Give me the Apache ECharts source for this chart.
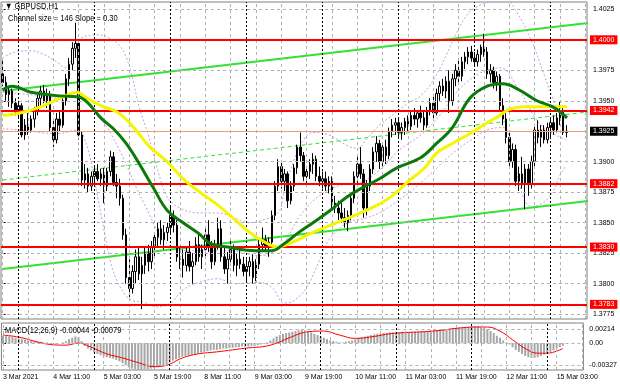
<!DOCTYPE html>
<html><head><meta charset="utf-8">
<script src="https://cdn.jsdelivr.net/npm/echarts@6/dist/echarts.min.js"></script>
<style>html,body{margin:0;padding:0;background:#fff}#c{width:620px;height:388px}</style>
</head><body><div id="c"></div>
<script>
// ---------- DATA ----------
const tickLabels = ['3 Mar 2021','4 Mar 11:00','5 Mar 03:00','5 Mar 19:00','8 Mar 11:00','9 Mar 03:00','9 Mar 19:00','10 Mar 11:00','11 Mar 03:00','11 Mar 19:00','12 Mar 11:00','15 Mar 03:00'];
const SLOTS = 185; // hourly bar slots shown (179 bars + empty right margin)
const categories = Array.from({length: SLOTS}, (_, i) => i);

const open = [
1.3972,1.3965,1.3955,1.3958,1.3948,1.3942,1.3946,1.3922,1.3930,1.3926,
1.3935,1.3942,1.3952,1.3958,1.3950,1.3955,1.3928,1.3918,1.3935,1.3930,
1.3950,1.3968,1.3980,1.3993,1.3997,1.3922,1.3885,1.3890,1.3880,1.3888,
1.3892,1.3886,1.3890,1.3880,1.3892,1.3904,1.3883,1.3880,1.3870,1.3840,
1.3805,1.3796,1.3810,1.3822,1.3808,1.3815,1.3825,1.3818,1.3830,1.3838,
1.3845,1.3836,1.3842,1.3846,1.3856,1.3848,1.3822,1.3820,1.3815,1.3826,
1.3814,1.3818,1.3832,1.3822,1.3828,1.3840,1.3830,1.3818,1.3832,1.3845,
1.3822,1.3812,1.3820,1.3828,1.3815,1.3820,1.3816,1.3810,1.3814,1.3818,
1.3805,1.3816,1.3832,1.3836,1.3830,1.3834,1.3856,1.3880,1.3896,1.3884,
1.3890,1.3868,1.3880,1.3895,1.3912,1.3905,1.3888,1.3892,1.3898,1.3902,
1.3888,1.3884,1.3886,1.3880,1.3884,1.3866,1.3862,1.3858,1.3854,1.3850,
1.3856,1.3870,1.3888,1.3898,1.3890,1.3862,1.3880,1.3894,1.3908,1.3915,
1.3900,1.3912,1.3905,1.3925,1.3930,1.3932,1.3924,1.3928,1.3933,1.3929,
1.3938,1.3935,1.3940,1.3936,1.3930,1.3942,1.3948,1.3940,1.3956,1.3962,
1.3958,1.3966,1.3950,1.3968,1.3975,1.3970,1.3982,1.3986,1.3990,1.3985,
1.3982,1.3988,1.3994,1.3990,1.3972,1.3975,1.3965,1.3970,1.3946,1.3935,
1.3920,1.3900,1.3910,1.3884,1.3890,1.3882,1.3894,1.3882,1.3900,1.3926,
1.3920,1.3926,1.3918,1.3928,1.3932,1.3926,1.3936,1.3942,1.3924];
const high = [
1.3985,1.3970,1.3962,1.3960,1.3952,1.3950,1.3948,1.3935,1.3940,1.3938,
1.3945,1.3955,1.3962,1.3963,1.3960,1.3958,1.3935,1.3940,1.3942,1.3955,
1.3972,1.3985,1.3998,1.4014,1.4000,1.3925,1.3898,1.3895,1.3892,1.3896,
1.3898,1.3894,1.3895,1.3895,1.3909,1.3908,1.3890,1.3886,1.3873,1.3845,
1.3820,1.3815,1.3828,1.3830,1.3822,1.3830,1.3832,1.3835,1.3842,1.3850,
1.3852,1.3848,1.3850,1.3863,1.3860,1.3852,1.3830,1.3828,1.3830,1.3835,
1.3825,1.3838,1.3840,1.3832,1.3845,1.3852,1.3835,1.3836,1.3854,1.3852,
1.3830,1.3826,1.3835,1.3832,1.3825,1.3828,1.3822,1.3820,1.3822,1.3824,
1.3820,1.3836,1.3846,1.3840,1.3838,1.3860,1.3884,1.3902,1.3900,1.3894,
1.3892,1.3884,1.3898,1.3914,1.3924,1.3908,1.3896,1.3902,1.3907,1.3905,
1.3896,1.3892,1.3892,1.3888,1.3888,1.3872,1.3868,1.3866,1.3862,1.3860,
1.3875,1.3892,1.3904,1.3912,1.3894,1.3885,1.3898,1.3912,1.3921,1.3918,
1.3916,1.3918,1.3928,1.3935,1.3936,1.3936,1.3932,1.3936,1.3938,1.3942,
1.3944,1.3942,1.3946,1.3942,1.3945,1.3952,1.3955,1.3960,1.3966,1.3968,
1.3970,1.3975,1.3972,1.3980,1.3983,1.3986,1.3990,1.3994,1.3995,1.3990,
1.3992,1.3996,1.4005,1.3994,1.3980,1.3978,1.3974,1.3972,1.3952,1.3940,
1.3925,1.3915,1.3914,1.3896,1.3904,1.3898,1.3898,1.3905,1.3930,1.3934,
1.3930,1.3930,1.3932,1.3935,1.3938,1.3940,1.3949,1.3946,1.3930];
const low = [
1.3962,1.3950,1.3945,1.3944,1.3938,1.3936,1.3920,1.3918,1.3922,1.3924,
1.3928,1.3938,1.3946,1.3948,1.3944,1.3925,1.3912,1.3915,1.3925,1.3928,
1.3946,1.3962,1.3975,1.3985,1.3918,1.3880,1.3878,1.3875,1.3876,1.3882,
1.3884,1.3880,1.3866,1.3876,1.3888,1.3880,1.3870,1.3864,1.3836,1.3800,
1.3789,1.3792,1.3800,1.3803,1.3779,1.3808,1.3810,1.3812,1.3822,1.3830,
1.3832,1.3828,1.3835,1.3840,1.3842,1.3818,1.3812,1.3805,1.3810,1.3810,
1.3800,1.3815,1.3818,1.3812,1.3822,1.3826,1.3812,1.3815,1.3828,1.3818,
1.3808,1.3800,1.3815,1.3810,1.3806,1.3812,1.3806,1.3802,1.3806,1.3800,
1.3802,1.3812,1.3826,1.3826,1.3822,1.3830,1.3852,1.3876,1.3878,1.3876,
1.3862,1.3865,1.3876,1.3890,1.3900,1.3884,1.3880,1.3886,1.3890,1.3884,
1.3880,1.3878,1.3876,1.3874,1.3862,1.3858,1.3852,1.3850,1.3846,1.3843,
1.3852,1.3866,1.3880,1.3886,1.3854,1.3856,1.3876,1.3890,1.3900,1.3894,
1.3896,1.3898,1.3902,1.3920,1.3922,1.3920,1.3918,1.3922,1.3925,1.3926,
1.3930,1.3928,1.3932,1.3926,1.3928,1.3938,1.3935,1.3938,1.3950,1.3954,
1.3952,1.3940,1.3946,1.3962,1.3964,1.3966,1.3976,1.3980,1.3982,1.3978,
1.3978,1.3982,1.3986,1.3968,1.3965,1.3960,1.3958,1.3942,1.3930,1.3915,
1.3895,1.3895,1.3880,1.3876,1.3878,1.3861,1.3872,1.3878,1.3896,1.3915,
1.3912,1.3915,1.3915,1.3920,1.3922,1.3924,1.3930,1.3922,1.3920];
const close = [
1.3965,1.3955,1.3958,1.3948,1.3942,1.3946,1.3922,1.3930,1.3926,1.3935,
1.3942,1.3952,1.3958,1.3950,1.3955,1.3928,1.3918,1.3935,1.3930,1.3950,
1.3968,1.3980,1.3993,1.3997,1.3922,1.3885,1.3890,1.3880,1.3888,1.3892,
1.3886,1.3890,1.3880,1.3892,1.3904,1.3883,1.3880,1.3870,1.3840,1.3805,
1.3796,1.3810,1.3822,1.3808,1.3815,1.3825,1.3818,1.3830,1.3838,1.3845,
1.3836,1.3842,1.3846,1.3856,1.3848,1.3822,1.3820,1.3815,1.3826,1.3814,
1.3818,1.3832,1.3822,1.3828,1.3840,1.3830,1.3818,1.3832,1.3845,1.3822,
1.3812,1.3820,1.3828,1.3815,1.3820,1.3816,1.3810,1.3814,1.3818,1.3805,
1.3816,1.3832,1.3836,1.3830,1.3834,1.3856,1.3880,1.3896,1.3884,1.3890,
1.3868,1.3880,1.3895,1.3912,1.3905,1.3888,1.3892,1.3898,1.3902,1.3888,
1.3884,1.3886,1.3880,1.3884,1.3866,1.3862,1.3858,1.3854,1.3850,1.3856,
1.3870,1.3888,1.3898,1.3890,1.3862,1.3880,1.3894,1.3908,1.3915,1.3900,
1.3912,1.3905,1.3925,1.3930,1.3932,1.3924,1.3928,1.3933,1.3929,1.3938,
1.3935,1.3940,1.3936,1.3930,1.3942,1.3948,1.3940,1.3956,1.3962,1.3958,
1.3966,1.3950,1.3968,1.3975,1.3970,1.3982,1.3986,1.3990,1.3985,1.3982,
1.3988,1.3994,1.3990,1.3972,1.3975,1.3965,1.3970,1.3946,1.3935,1.3920,
1.3900,1.3910,1.3884,1.3890,1.3882,1.3894,1.3882,1.3900,1.3926,1.3920,
1.3926,1.3918,1.3928,1.3932,1.3926,1.3936,1.3942,1.3924,1.3925];

// moving averages: [bar index, price]
const maGreen = [[0,1.3959],[3,1.3962],[9,1.3957],[18,1.3954],[24,1.3953],[27,1.3948],[31,1.3936],[35,1.3927],[39,1.3915],[43,1.3899],[47.5,1.3879],[52,1.3860],[57,1.3850],[62,1.3841],[65.5,1.3833],[71,1.3830],[80,1.3827],[85,1.3827],[89,1.3833],[93,1.3841],[98,1.3850],[103.4,1.3860],[108.7,1.3871],[113.8,1.3879],[119,1.3886],[124.5,1.3895],[131.8,1.3903],[137,1.3915],[142,1.3928],[147.5,1.3952],[153,1.3962],[158,1.3964],[163,1.3959],[168.7,1.3950],[173.7,1.3945],[178.2,1.3936]];
const maYellow = [[0,1.3938],[5.5,1.3940],[12,1.3945],[18,1.3952],[23.5,1.3957],[26.7,1.3952],[31,1.3946],[36,1.3941],[39.3,1.3934],[42.4,1.3925],[46.5,1.3912],[52,1.3900],[57,1.3886],[62.3,1.3875],[67.7,1.3865],[72.7,1.3854],[78,1.3842],[83.5,1.3833],[86.6,1.3830],[90.7,1.3833],[98,1.3842],[107.5,1.3852],[118,1.3864],[123,1.3872],[128.6,1.3885],[133.3,1.3895],[137,1.3907],[142,1.3915],[147.5,1.3923],[153,1.3932],[157,1.3938],[160,1.3943],[165,1.3945],[173.7,1.3945],[178.2,1.3945]];
// envelope (violet dotted)
const bbUpper = [[0,1.3985],[4,1.3990],[9,1.3991],[13,1.3988],[17,1.3982],[20,1.3977],[22,1.3987],[24,1.4000],[30,1.4004],[34,1.4001],[37,1.3995],[39,1.3986],[41,1.3969],[43,1.3946],[46,1.3922],[49,1.3893],[52,1.3871],[56,1.3862],[62,1.3858],[68,1.3858],[73,1.3854],[78,1.3850],[82,1.3852],[87,1.3858],[89,1.3877],[92,1.3901],[95,1.3918],[98,1.3924],[103,1.3922],[109,1.3913],[112,1.3911],[115,1.3919],[119,1.3930],[122,1.3936],[128,1.3948],[132,1.3954],[136,1.3967],[140,1.3987],[143,1.4004],[146,1.4018],[149,1.4026],[154,1.4031],[159,1.4032],[162,1.4024],[167,1.3999],[171,1.3971],[174,1.3950],[176,1.3940],[178,1.3934]];
const bbMiddle = [[0,1.3957],[9,1.3955],[18,1.3952],[23,1.3957],[26,1.3950],[31,1.3936],[37,1.3909],[45,1.3864],[53,1.3831],[62,1.3827],[72,1.3827],[81,1.3823],[88,1.3831],[94,1.3856],[100,1.3872],[107,1.3881],[113,1.3883],[119,1.3893],[125,1.3909],[132,1.3922],[138,1.3938],[144,1.3959],[151,1.3973],[157,1.3977],[163,1.3959],[170,1.3930],[178,1.3918]];
const bbLower = [[0,1.3927],[6,1.3926],[17,1.3923],[24,1.3926],[26,1.3918],[28,1.3899],[30,1.3871],[32,1.3844],[34,1.3819],[36,1.3803],[39,1.3790],[41,1.3786],[44,1.3785],[49,1.3781],[53,1.3784],[57,1.3795],[62,1.3801],[68,1.3804],[73,1.3800],[81,1.3801],[85,1.3797],[89,1.3784],[92,1.3786],[96,1.3797],[100,1.3819],[103,1.3836],[109,1.3850],[115,1.3854],[119,1.3858],[122,1.3863],[128,1.3874],[133,1.3885],[138,1.3897],[143,1.3909],[148,1.3918],[153,1.3926],[158,1.3928],[161,1.3907],[164,1.3874],[167,1.3863],[171,1.3867],[174,1.3877],[176,1.3889],[178,1.3897]];
// regression channel (anchor points)
const channelUpper = [[0,1.3958],[192,1.4016]];
const channelMiddle = [[0,1.3885],[192,1.3943]];
const channelLower = [[0,1.3812],[192,1.3870]];
const levels = [1.4000,1.3942,1.3882,1.3830,1.3783];
const bidPrice = 1.3925;
const priceTicks = [1.3775,1.3800,1.3825,1.3850,1.3875,1.3900,1.3925,1.3950,1.3975,1.4000,1.4025];
const priceLabels = [1.3775,1.3800,1.3825,1.3850,1.3875,1.3900,1.3950,1.3975,1.4025];
const daySeparators = [5,29,53,77,101,125,149,173];

const macdHist = [
0.0011,0.0011,0.0010,0.0009,0.0008,
0.0007,0.0006,0.0005,0.0004,0.0004,
0.0003,0.0002,0.0002,0.0001,0.0001,
0.0000,-0.0001,-0.0001,0.0000,0.0001,0.0003,
0.0006,0.0008,0.0010,0.0009,
0.0003,-0.0004,-0.0008,-0.0011,-0.0014,-0.0016,-0.0018,
-0.0020,-0.0021,-0.0022,-0.0023,-0.0025,-0.0027,-0.0030,-0.0033,-0.0036,-0.0038,
-0.0039,-0.0040,-0.0040,-0.0039,-0.0039,-0.0038,-0.0037,-0.0036,-0.0035,-0.0034,-0.0032,
-0.0029,-0.0026,-0.0024,-0.0022,-0.0020,-0.0019,-0.0018,-0.0017,-0.0016,
-0.0015,-0.0014,-0.0013,-0.0012,-0.0011,-0.0010,-0.0010,-0.0009,-0.0008,-0.0008,-0.0007,
-0.0007,-0.0006,-0.0006,-0.0005,-0.0005,-0.0005,-0.0004,-0.0004,-0.0003,-0.0002,
-0.0001,0.0001,0.0004,0.0007,0.0010,0.0012,
0.0014,0.0015,0.0016,0.0017,0.0018,0.0019,0.0020,0.0019,0.0018,
0.0016,0.0014,0.0012,0.0010,0.0008,0.0006,0.0004,0.0003,0.0002,
0.0001,0.0001,0.0002,0.0003,
0.0004,0.0006,0.0008,0.0009,0.0010,0.0011,0.0012,0.0013,0.0014,0.0014,0.0015,0.0015,0.0016,
0.0016,0.0016,0.0016,0.0017,0.0017,0.0016,0.0016,0.0017,0.0017,0.0018,0.0018,0.0018,0.0019,0.0019,0.0019,0.0020,
0.0020,0.0021,0.0021,0.0022,0.0022,0.0023,0.0023,0.0024,0.0024,0.0025,0.0025,
0.0025,0.0024,0.0023,0.0021,0.0018,
0.0015,0.0011,0.0008,0.0004,0.0001,-0.0002,-0.0006,-0.0010,-0.0013,-0.0016,-0.0019,-0.0021,-0.0022,-0.0022,-0.0021,-0.0019,-0.0017,-0.0015,-0.0013,-0.0011,-0.0008,-0.0006,-0.0004];
const macdSignal = [[0,0.0012],[5,0.0009],[10,0.0003],[15,-0.0002],[20,-0.0003],[24,0.0000],[28,-0.0006],[33,-0.0016],[38,-0.0022],[43,-0.0029],[48,-0.0035],[52,-0.0033],[57,-0.0022],[62,-0.0016],[68,-0.0013],[73,-0.0010],[78,-0.0007],[83,-0.0005],[87,0.0000],[91,0.0008],[97,0.0017],[102,0.0018],[107,0.0012],[112,0.0007],[118,0.0010],[123,0.0014],[129,0.0016],[134,0.0017],[139,0.0019],[144,0.0022],[150,0.0024],[154,0.0024],[158,0.0018],[162,0.0005],[166,-0.0008],[170,-0.0015],[173,-0.0015],[178,-0.0008]];
const macdTicks = [-0.00327, 0, 0.00214];

const symbolText = '\u25BC GBPUSD,H1';
const channelText = 'Channel size = 146 Slope = 0.30';
const macdText = 'MACD(12,26,9) -0.00044 -0.00079';

// ---------- CHART ----------
const FONT = "'Liberation Sans',Arial,sans-serif";
const AX_FS = 7;
const GRID_COL = '#b2b2b2';
const chart = echarts.init(document.getElementById('c'), null, {renderer: 'canvas'});
const candles = open.map((o, i) => [o, close[i], low[i], high[i]]);
const gridBars = [];
for (let i = 0; i < SLOTS; i += 8) gridBars.push(i);

const helper = (xi, yi, col, type, items, z) => ({
  type: 'line', xAxisIndex: xi, yAxisIndex: yi, data: [], z: z, silent: true,
  markLine: {silent: true, precision: 6, symbol: ['none','none'], label: {show: false}, animation: false,
    lineStyle: {color: col, type: type, width: 1}, emphasis: {disabled: true}, data: items}
});

const levelLine = (v, bg, lineCol, w) => ({
  yAxis: v,
  lineStyle: {color: lineCol, width: w, type: 'solid'},
  label: {show: true, position: 'end', distance: 3, formatter: v.toFixed(4),
    backgroundColor: bg, color: '#fff', fontSize: AX_FS, fontFamily: FONT,
    padding: [1, 3, 0, 3], lineHeight: 8}
});

const txt = (s, x, y) => ({type: 'text', x: x, y: y, z: 100, scaleX: 0.84,
  style: {text: s, fontSize: 9, fontFamily: FONT, fill: '#000'}});

const option = {
  animation: false,
  backgroundColor: '#ffffff',
  grid: [
    {left: 1, top: 2, width: 586, height: 317, show: true, borderColor: '#808080', borderWidth: 1, backgroundColor: '#fff'},
    {left: 1, top: 323, width: 586, height: 47, show: true, borderColor: '#808080', borderWidth: 1, backgroundColor: '#fff'}
  ],
  xAxis: [
    {type: 'category', gridIndex: 0, data: categories, boundaryGap: true, show: false},
    {type: 'value', gridIndex: 0, min: -0.5, max: SLOTS - 0.5, show: false},
    {type: 'category', gridIndex: 1, data: categories, boundaryGap: true,
      axisLine: {show: false},
      axisTick: {show: true, interval: 15, alignWithLabel: true, length: 2, lineStyle: {color: '#000'}},
      axisLabel: {show: true, interval: 15, align: 'left', margin: 4, fontSize: AX_FS, fontFamily: FONT, color: '#000',
        formatter: (v, i) => tickLabels[Math.round(i / 16)] || ''},
      splitLine: {show: false}},
    {type: 'value', gridIndex: 1, min: -0.5, max: SLOTS - 0.5, show: false}
  ],
  yAxis: [
    {type: 'value', gridIndex: 0, position: 'right', min: 1.3771, max: 1.4031, scale: true,
      axisLine: {show: false},
      axisTick: {show: true, customValues: priceTicks, length: 3, lineStyle: {color: '#000'}},
      axisLabel: {show: true, customValues: priceLabels, margin: 6, fontSize: AX_FS, fontFamily: FONT, color: '#000',
        formatter: v => v.toFixed(4)},
      splitLine: {show: false}},
    {type: 'value', gridIndex: 1, position: 'right', min: -0.0040, max: 0.0030,
      axisLine: {show: false},
      axisTick: {show: true, customValues: macdTicks, length: 3, lineStyle: {color: '#000'}},
      axisLabel: {show: true, customValues: macdTicks, margin: 6, fontSize: AX_FS, fontFamily: FONT, color: '#000',
        formatter: v => (Math.abs(v) < 1e-9 ? '0.00' : v.toFixed(5))},
      splitLine: {show: false}}
  ],
  graphic: [txt(symbolText, 5, 2), txt(channelText, 8, 14), txt(macdText, 5, 326)],
  series: [
    // grid helpers (main pane)
    helper(1, 0, GRID_COL, [3, 3], gridBars.map(b => ({xAxis: b})), 1),
    helper(1, 0, GRID_COL, [3, 3], priceTicks.map(v => ({yAxis: v})), 1),
    helper(1, 0, '#000000', [2, 2], daySeparators.map(b => ({xAxis: b})), 1),
    // envelope
    ...[bbUpper, bbMiddle, bbLower].map(d => ({type: 'line', xAxisIndex: 1, yAxisIndex: 0, data: d, smooth: 0.4,
      symbol: 'none', silent: true, z: 2, lineStyle: {color: '#c39be6', width: 1, type: [2, 2]}})),
    // channel
    {type: 'line', xAxisIndex: 1, yAxisIndex: 0, data: channelUpper, symbol: 'none', clip: false, silent: true, z: 3,
      lineStyle: {color: '#2fe32f', width: 2}},
    {type: 'line', xAxisIndex: 1, yAxisIndex: 0, data: channelMiddle, symbol: 'none', clip: false, silent: true, z: 3,
      lineStyle: {color: '#2fe32f', width: 1, type: [4, 3]}},
    {type: 'line', xAxisIndex: 1, yAxisIndex: 0, data: channelLower, symbol: 'none', clip: false, silent: true, z: 3,
      lineStyle: {color: '#2fe32f', width: 2}},
    // candles
    {type: 'candlestick', xAxisIndex: 0, yAxisIndex: 0, data: candles, barWidth: 2, z: 4,
      itemStyle: {color: '#ffffff', color0: '#000000', borderColor: '#000000', borderColor0: '#000000', borderWidth: 1}},
    // horizontal levels + bid line
    {type: 'line', xAxisIndex: 1, yAxisIndex: 0, data: [], z: 6, silent: true,
      markLine: {silent: true, precision: 6, symbol: ['none', 'none'], animation: false,
        data: [levelLine(bidPrice, '#000000', '#f79a70', 1)].concat(levels.map(v => levelLine(v, '#ff0000', '#ff0000', 2)))}},
    // moving averages
    {type: 'line', xAxisIndex: 1, yAxisIndex: 0, data: maYellow, smooth: 0.4, symbol: 'none', silent: true, z: 5,
      lineStyle: {color: '#f5f500', width: 3}},
    {type: 'line', xAxisIndex: 1, yAxisIndex: 0, data: maGreen, smooth: 0.4, symbol: 'none', silent: true, z: 5,
      lineStyle: {color: '#0b7a0b', width: 3}},
    // MACD pane
    helper(3, 1, GRID_COL, [3, 3], gridBars.map(b => ({xAxis: b})).concat(macdTicks.map(v => ({yAxis: v}))), 1),
    helper(3, 1, '#000000', [2, 2], daySeparators.map(b => ({xAxis: b})), 1),
    {type: 'bar', xAxisIndex: 2, yAxisIndex: 1, data: macdHist, barWidth: 2, silent: true, z: 2,
      itemStyle: {color: '#a6a6a6'}},
    {type: 'line', xAxisIndex: 3, yAxisIndex: 1, data: macdSignal, smooth: 0.4, symbol: 'none', silent: true, z: 3,
      lineStyle: {color: '#ff0000', width: 1}}
  ]
};
chart.setOption(option);
</script></body></html>
